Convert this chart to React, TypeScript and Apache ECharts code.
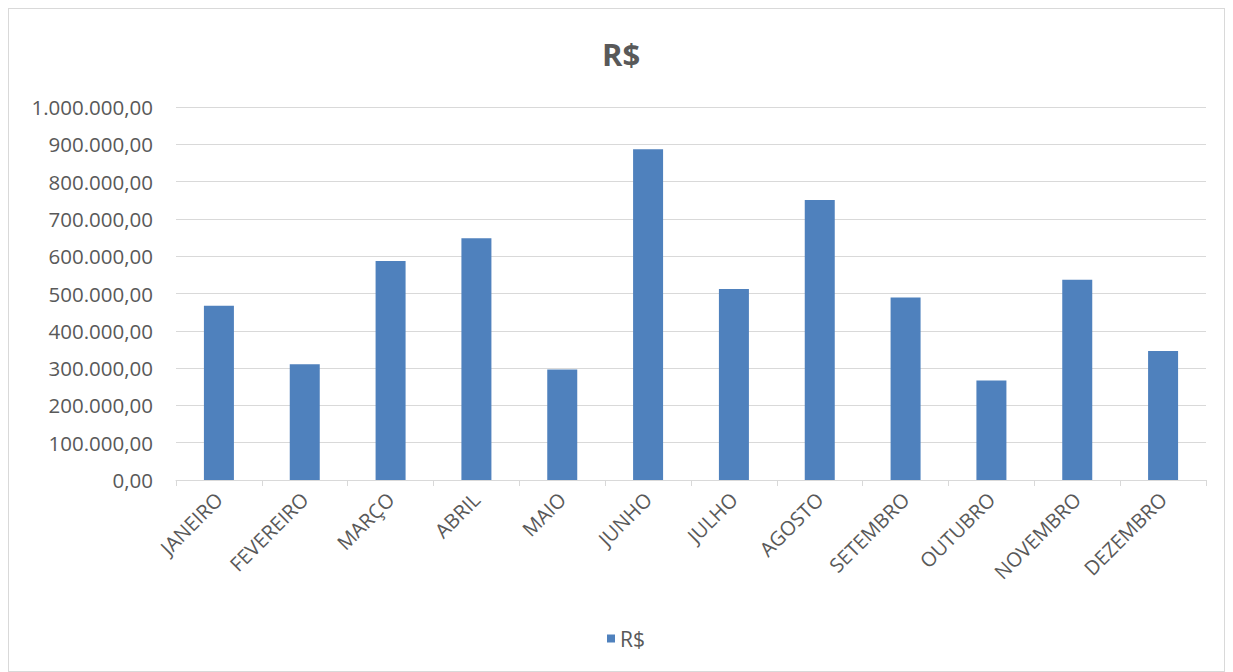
import React, { useEffect, useRef } from "react";
import * as echarts from "echarts";

const categories = ["JANEIRO", "FEVEREIRO", "MARÇO", "ABRIL", "MAIO", "JUNHO", "JULHO", "AGOSTO", "SETEMBRO", "OUTUBRO", "NOVEMBRO", "DEZEMBRO"];
const values = [467000, 310000, 587000, 648000, 296000, 887000, 512000, 751000, 489000, 267000, 537000, 346000];
const seriesName = "R$";

function fmt(v: number): string {
  const neg = v < 0;
  const abs = Math.abs(v);
  const intPart = Math.floor(abs);
  const dec = Math.round((abs - intPart) * 100);
  const s = String(intPart).replace(/\B(?=(\d{3})+(?!\d))/g, ".");
  return (neg ? "-" : "") + s + "," + String(dec).padStart(2, "0");
}

export default function App() {
  const ref = useRef<HTMLDivElement>(null);
  useEffect(() => {
    if (!ref.current) return;
    const chart = echarts.init(ref.current, null, { renderer: "svg" });
    const font = "Open Sans";
    chart.setOption({
      animation: false,
      backgroundColor: "#ffffff",
      title: {
        text: seriesName,
        left: 588,
        top: 24,
        textStyle: { fontFamily: font, fontSize: 31, fontWeight: "bold", color: "#595959" },
      },
      legend: {
        data: [seriesName],
        bottom: 17,
        left: 593,
        icon: "rect",
        itemWidth: 8,
        itemHeight: 8,
        itemGap: 10,
        textStyle: { fontFamily: font, fontSize: 21, color: "#595959" },
      },
      grid: { left: 167, right: 18, top: 98, bottom: 191, containLabel: false },
      xAxis: {
        type: "category",
        data: categories,
        axisLine: { lineStyle: { color: "#d9d9d9", width: 1 } },
        axisTick: { show: true, alignWithLabel: false, length: 6, lineStyle: { color: "#d9d9d9" } },
        axisLabel: { rotate: 45, fontFamily: font, fontSize: 20, color: "#595959", margin: 16, interval: 0 },
      },
      yAxis: {
        type: "value",
        min: 0,
        max: 1000000,
        interval: 100000,
        axisLine: { show: false },
        axisTick: { show: false },
        splitLine: { lineStyle: { color: "#d9d9d9", width: 1 } },
        axisLabel: { fontFamily: font, fontSize: 20.5, color: "#595959", margin: 23, formatter: (v: number) => fmt(v) },
      },
      series: [
        {
          name: seriesName,
          type: "bar",
          data: values,
          barWidth: 30,
          itemStyle: { color: "#4f81bd" },
        },
      ],
    });
    return () => chart.dispose();
  }, []);
  return (
    <div style={{ width: 1217, height: 664, border: "1px solid #d9d9d9", boxSizing: "border-box" }}>
      <div ref={ref} style={{ width: "100%", height: "100%" }} />
    </div>
  );
}
